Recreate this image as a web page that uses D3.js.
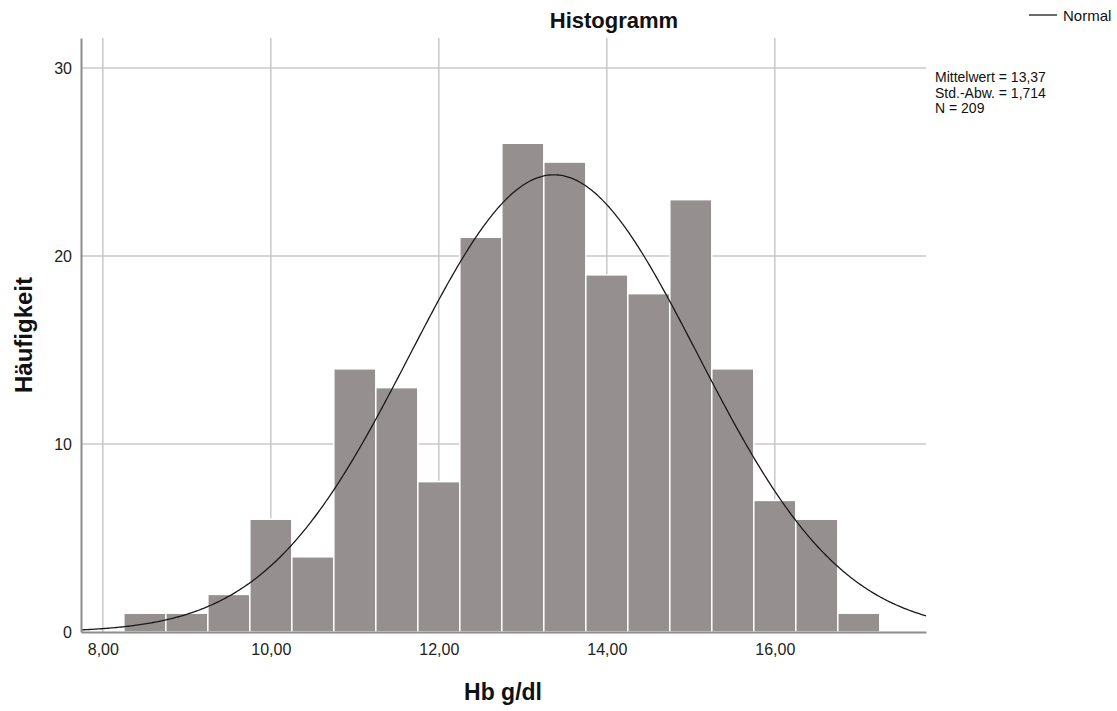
<!DOCTYPE html>
<html>
<head>
<meta charset="utf-8">
<script src="https://cdn.jsdelivr.net/npm/d3@7"></script>
<style>
  body { margin: 0; background: #fff; }
  svg { display: block; font-family: "Liberation Sans", Arial, sans-serif; }
</style>
</head>
<body>
<svg id="chart" width="1117" height="711"></svg>
<script>
// Histogram bins of Hb (g/dl), bin width 0.5
const binStarts = [8.25, 8.75, 9.25, 9.75, 10.25, 10.75, 11.25, 11.75, 12.25,
                   12.75, 13.25, 13.75, 14.25, 14.75, 15.25, 15.75, 16.25, 16.75];
const counts    = [1, 1, 2, 6, 4, 14, 13, 8, 21, 26, 25, 19, 18, 23, 14, 7, 6, 1];
const binWidth = 0.5;

const xTicks = [8, 10, 12, 14, 16];
const yTicks = [0, 10, 20, 30];

const mean = 13.37, sd = 1.714, n = 209;
const statLines = ["Mittelwert = 13,37", "Std.-Abw. = 1,714", "N = 209"];

(function () {
const svg = d3.select("#chart");
const plotLeft = 81, plotRight = 926, plotTop = 38, plotBottom = 632;

const x = d3.scaleLinear().domain([7.74, 17.8]).range([plotLeft, plotRight]);
const y = d3.scaleLinear().domain([0, 31.6]).range([plotBottom, plotTop]);

const fmt = v => d3.format(".2f")(v).replace(".", ",");

// grid
const grid = svg.append("g").attr("stroke", "#c8c8c8").attr("stroke-width", 1.5);
grid.selectAll(".vx").data(xTicks).join("line")
  .attr("x1", d => x(d)).attr("x2", d => x(d))
  .attr("y1", plotTop).attr("y2", plotBottom);
grid.selectAll(".hy").data(yTicks.filter(d => d > 0)).join("line")
  .attr("x1", plotLeft).attr("x2", plotRight)
  .attr("y1", d => y(d)).attr("y2", d => y(d));

// bars
svg.append("g").selectAll("rect").data(binStarts).join("rect")
  .attr("x", d => x(d))
  .attr("width", d => x(d + binWidth) - x(d))
  .attr("y", (d, i) => y(counts[i]))
  .attr("height", (d, i) => y(0) - y(counts[i]))
  .attr("fill", "#958f8f")
  .attr("stroke", "#ffffff")
  .attr("stroke-width", 1.5);

// normal curve scaled to counts per bin
const scale = n * binWidth / (sd * Math.sqrt(2 * Math.PI));
const curveX = d3.range(7.74, 17.8001, 0.02);
const line = d3.line()
  .x(d => x(d))
  .y(d => y(scale * Math.exp(-0.5 * ((d - mean) / sd) ** 2)));
svg.append("path").datum(curveX)
  .attr("d", line)
  .attr("fill", "none")
  .attr("stroke", "#1a1a1a")
  .attr("stroke-width", 1.3);

// axes
const xAxis = svg.append("g").attr("transform", `translate(0,${plotBottom})`)
  .call(d3.axisBottom(x).tickValues(xTicks).tickFormat(fmt).tickSize(0).tickPadding(12));
xAxis.select(".domain").attr("stroke", "#8c8c8c").attr("stroke-width", 2);
xAxis.selectAll("text").attr("font-size", 16).attr("fill", "#222")
  .attr("font-family", "Liberation Sans, Arial, sans-serif");

const yAxis = svg.append("g").attr("transform", `translate(${plotLeft},0)`)
  .call(d3.axisLeft(y).tickValues(yTicks).tickFormat(d3.format("d")).tickSize(0).tickPadding(9));
yAxis.select(".domain").attr("stroke", "#8c8c8c").attr("stroke-width", 2);
yAxis.selectAll("text").attr("font-size", 16).attr("fill", "#222")
  .attr("font-family", "Liberation Sans, Arial, sans-serif");

// title
svg.append("text").attr("x", 614).attr("y", 28)
  .attr("text-anchor", "middle").attr("font-size", 22).attr("font-weight", "bold")
  .attr("fill", "#111").text("Histogramm");

// axis titles
svg.append("text").attr("x", 503).attr("y", 700)
  .attr("text-anchor", "middle").attr("font-size", 23).attr("font-weight", "bold")
  .attr("fill", "#111").text("Hb g/dl");
svg.append("text").attr("transform", "translate(32,335) rotate(-90)")
  .attr("text-anchor", "middle").attr("font-size", 24).attr("font-weight", "bold")
  .attr("fill", "#111").text("Häufigkeit");

// legend
svg.append("line").attr("x1", 1029).attr("x2", 1057).attr("y1", 15).attr("y2", 15)
  .attr("stroke", "#1a1a1a").attr("stroke-width", 1.3);
svg.append("text").attr("x", 1063).attr("y", 21)
  .attr("font-size", 15).attr("fill", "#111").text("Normal");

// statistics
svg.append("g").selectAll("text").data(statLines).join("text")
  .attr("x", 935).attr("y", (d, i) => 82 + i * 15.5)
  .attr("font-size", 14).attr("fill", "#111").text(d => d);
})();
</script>
</body>
</html>
